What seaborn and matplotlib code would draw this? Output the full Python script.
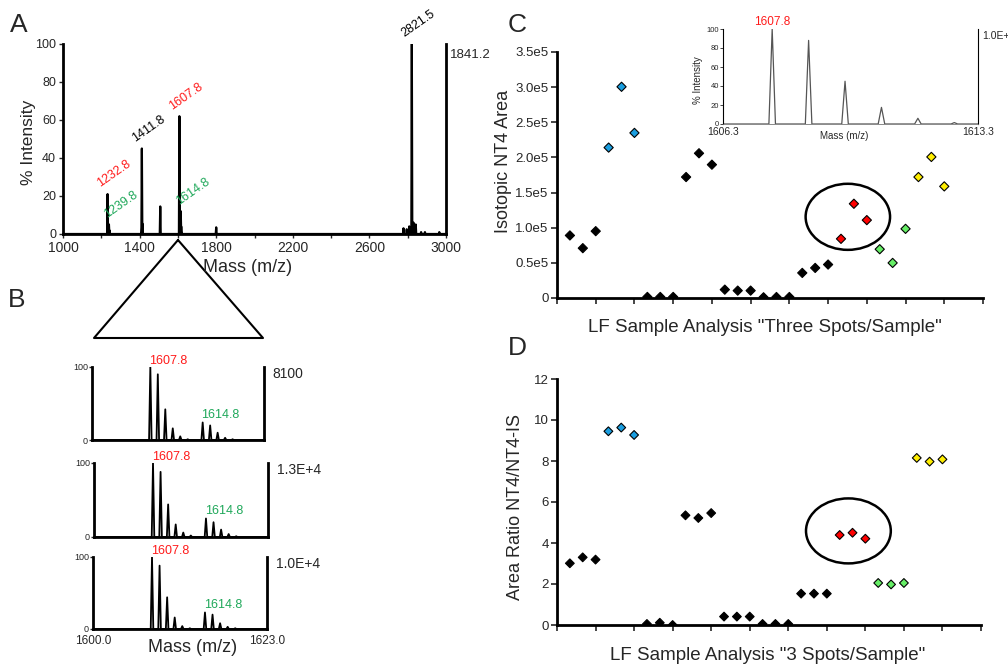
import numpy as np
import pandas as pd
import matplotlib
matplotlib.use("Agg")
import matplotlib.pyplot as plt
from matplotlib.patches import Ellipse
from matplotlib.lines import Line2D
from matplotlib.ticker import MultipleLocator, FixedLocator
import seaborn as sns

# ---------------- data ----------------
# Panel A: overview MALDI spectrum (m/z, % intensity)
a_mz = [1232.8, 1234.5, 1239.8, 1242.0, 1411.8, 1414.0, 1507.8, 1607.8, 1614.8, 1617.0,
        1800.0, 2778.0, 2795.0, 2808.0, 2821.5, 2830.0, 2842.0, 2870.0, 2890.0, 2965.0]
a_int = [21, 6, 5, 2, 45, 5.5, 14.5, 62, 12, 4,
         3.5, 3, 2.5, 4, 100, 6, 5, 1, 1, 1]
a_mz_faint = [1609.8]
a_int_faint = [27]
a_abs = "1841.2"
a_lab_text = ["1232.8", "1239.8", "1411.8", "1607.8", "1614.8", "2821.5"]
a_lab_mz = [1232.8, 1239.8, 1411.8, 1607.8, 1614.8, 2821.5]
a_lab_int = [21, 5, 45, 62, 12, 100]
a_lab_col = ["red", "green", "black", "red", "green", "black"]
a_xticks = [1000, 1400, 1800, 2200, 2600, 3000]
a_yticks = [0, 20, 40, 60, 80, 100]

# Panel B: zoomed spectra of three spots (m/z, % intensity)
b_mz = [1607.8, 1608.8, 1609.8, 1610.8, 1611.8, 1612.8, 1614.8, 1615.8, 1616.8, 1617.8, 1618.8]
b_int_1 = [100, 90, 42, 16, 5, 1, 24, 20, 10, 3, 1]
b_int_2 = [100, 88, 44, 17, 6, 2, 25, 20, 10, 4, 1]
b_int_3 = [100, 88, 44, 16, 4, 1, 23, 20, 8, 3, 1]
b_abs = ["8100", "1.3E+4", "1.0E+4"]
b_xlim = [1600.0, 1623.0]

# Panel C inset: isotope cluster of NT4
ins_mz = [1607.65, 1608.65, 1609.65, 1610.65, 1611.65, 1612.65]
ins_int = [100, 88, 45, 17.5, 6, 1.5]
ins_xlim = [1606.3, 1613.3]
ins_abs = "1.0E+4"

# Panels C and D: 10 samples x 3 spots
sample = [1]*3 + [2]*3 + [3]*3 + [4]*3 + [5]*3 + [6]*3 + [7]*3 + [8]*3 + [9]*3 + [10]*3
spot = [1, 2, 3] * 10
group = (["black"]*3 + ["blue"]*3 + ["black"]*15 + ["red"]*3 + ["green"]*3 + ["yellow"]*3)
c_area = [89000, 70900, 95100, 214000, 300500, 234900, 1500, 1500, 1500,
          172100, 205900, 189700, 11900, 10500, 10500, 1000, 1400, 1400,
          35700, 42800, 47600, 84200, 134100, 110800, 69400, 49900, 98400,
          172100, 200700, 158800]
d_ratio = [3.01, 3.30, 3.19, 9.45, 9.63, 9.27, 0.05, 0.11, 0.0,
           5.35, 5.22, 5.46, 0.41, 0.41, 0.41, 0.05, 0.05, 0.05,
           1.53, 1.53, 1.53, 4.39, 4.50, 4.21, 2.05, 1.98, 2.05,
           8.15, 7.97, 8.08]
c_yticks = [0, 50000, 100000, 150000, 200000, 250000, 300000, 350000]
c_yticklabels = ["0", "0.5e5", "1.0e5", "1.5e5", "2.0e5", "2.5e5", "3.0e5", "3.5e5"]
d_yticks = [0, 2, 4, 6, 8, 10, 12]
palette = {"black": "black", "blue": "#1a9ee0", "red": "#ff0000",
           "green": "#66ee66", "yellow": "#ffee00"}
text_colors = {"red": "#ff1a1a", "green": "#1fa85a", "black": "black"}

df = pd.DataFrame({"sample": sample, "spot": spot, "group": group,
                   "area": c_area, "ratio": d_ratio})
df["pos"] = (df["sample"] - 1) + df["spot"] / 3.0

# ---------------- style ----------------
sns.set_style("ticks")
plt.rcParams["font.family"] = ["Liberation Sans", "DejaVu Sans"]
plt.rcParams["axes.linewidth"] = 1.5

W, H = 1008, 666
fig = plt.figure(figsize=(W / 100, H / 100), dpi=100)
fig.patch.set_facecolor("white")


def ax_px(l, t, r, b):
    return fig.add_axes([l / W, 1 - b / H, (r - l) / W, (b - t) / H])


def ftext(x, y, s, **kw):
    return fig.text(x / W, 1 - y / H, s, **kw)


def profile(mz, inten, w, lo, hi):
    order = np.argsort(mz)
    xs, ys = [lo], [0.0]
    for i in order:
        xs += [mz[i] - w, mz[i], mz[i] + w]
        ys += [0.0, inten[i], 0.0]
    xs.append(hi)
    ys.append(0.0)
    return np.array(xs), np.array(ys)


def spectrum(ax, mz, inten, w, lo, hi, color="black", lw=1.2):
    xs, ys = profile(mz, inten, w, lo, hi)
    sns.lineplot(x=xs, y=ys, sort=False, estimator=None, color=color,
                 linewidth=lw, ax=ax)


# ---------------- Panel A ----------------
axA = ax_px(63, 44, 446, 234)
spectrum(axA, a_mz_faint, a_int_faint, 2.0, 1000, 3000, color="#b0b0b0", lw=1.0)
spectrum(axA, a_mz, a_int, 2.5, 1000, 3000, color="black", lw=1.6)
axA.set_xlim(1000, 3000)
axA.set_ylim(0, 100)
axA.xaxis.set_major_locator(FixedLocator(a_xticks))
axA.xaxis.set_minor_locator(MultipleLocator(200))
axA.set_yticks(a_yticks)
axA.tick_params(axis="both", which="both", direction="out", length=3, width=1,
                pad=2, top=False, right=False)
axA.tick_params(axis="x", which="major", labelsize=10)
axA.tick_params(axis="y", which="major", labelsize=9)
axA.tick_params(axis="x", which="minor", length=3)
for s in ["left", "bottom", "right"]:
    axA.spines[s].set_linewidth(2)
    axA.spines[s].set_color("black")
axA.spines["top"].set_visible(False)
axA.set_xlabel("")
axA.set_ylabel("")
for t, m, h, c in zip(a_lab_text, a_lab_mz, a_lab_int, a_lab_col):
    dx = -4 if c != "green" else 0
    axA.annotate(t, xy=(m, h), xytext=(dx, 3), textcoords="offset points",
                 rotation=35, rotation_mode="anchor", ha="left", va="bottom",
                 color=text_colors[c], fontsize=9, annotation_clip=False)
axA.text(1.01, 0.94, a_abs, transform=axA.transAxes, ha="left", va="center",
         fontsize=9.5)
ftext(28, 142, "% Intensity", rotation=90, ha="center", va="center", fontsize=12.5)
ftext(248, 267, "Mass (m/z)", ha="center", va="center", fontsize=13)
ftext(19, 25, "A", ha="center", va="center", fontsize=19)

# triangle linking A to B
tri_x = np.array([178, 94, 263, 178]) / W
tri_y = 1 - np.array([240, 338, 338, 240]) / H
fig.add_artist(Line2D(tri_x, tri_y, transform=fig.transFigure, color="black", lw=1.5))
ftext(17, 300, "B", ha="center", va="center", fontsize=19)

# ---------------- Panel B ----------------
b_boxes = [(92, 367, 264, 440), (94, 463, 268, 537), (93, 557, 267, 629)]
b_sets = [b_int_1, b_int_2, b_int_3]
for k, (box, ints, lab) in enumerate(zip(b_boxes, b_sets, b_abs)):
    ax = ax_px(*box)
    spectrum(ax, b_mz, ints, 0.17, b_xlim[0], b_xlim[1], color="black", lw=1.3)
    ax.set_xlim(*b_xlim)
    ax.set_ylim(0, 100)
    ax.set_yticks([0, 100])
    ax.tick_params(axis="y", direction="out", length=2, width=1, labelsize=6.5, pad=1)
    ax.spines["top"].set_visible(False)
    for s in ["left", "bottom", "right"]:
        ax.spines[s].set_linewidth(2)
        ax.spines[s].set_color("black")
    ax.set_xlabel("")
    ax.set_ylabel("")
    if k == 2:
        ax.set_xticks(b_xlim)
        ax.set_xticklabels(["%.1f" % v for v in b_xlim])
        ax.tick_params(axis="x", length=0, labelsize=8.5, pad=4)
    else:
        ax.set_xticks([])
    ax.annotate("1607.8", xy=(b_mz[0], 100), xytext=(-1, 0), textcoords="offset points",
                ha="left", va="bottom", color=text_colors["red"], fontsize=9,
                annotation_clip=False)
    ax.annotate("1614.8", xy=(b_mz[6], ints[6]), xytext=(-1, 1), textcoords="offset points",
                ha="left", va="bottom", color=text_colors["green"], fontsize=9,
                annotation_clip=False)
    ax.text(1.05, 1.0, lab, transform=ax.transAxes, ha="left", va="top", fontsize=10)
ftext(193, 648, "Mass (m/z)", ha="center", va="center", fontsize=13)

# ---------------- Panel C ----------------
axC = ax_px(557, 52, 983, 298)
sns.scatterplot(data=df, x="pos", y="area", hue="group", palette=palette, marker="D",
                s=22, edgecolor="black", linewidth=0.8, legend=False, ax=axC, zorder=3)
axC.set_xlim(0, 11)
axC.set_ylim(0, 350000)
axC.set_xticks(range(0, 12))
axC.set_xticklabels([])
axC.set_yticks(c_yticks)
axC.set_yticklabels(c_yticklabels)
axC.tick_params(axis="both", direction="out", length=4, width=1.2, labelsize=9.5, pad=2)
for s in ["left", "bottom"]:
    axC.spines[s].set_linewidth(2)
    axC.spines[s].set_color("black")
axC.spines["top"].set_visible(False)
axC.spines["right"].set_visible(False)
axC.set_xlabel("")
axC.set_ylabel("")
axC.add_patch(Ellipse((7.51, 115500), 2.18, 94000, fill=False, edgecolor="black", lw=1.8))
ftext(503, 161, "Isotopic NT4 Area", rotation=90, ha="center", va="center", fontsize=13)
ftext(765, 328, 'LF Sample Analysis "Three Spots/Sample"', ha="center", va="center",
      fontsize=13.5)
ftext(517, 25, "C", ha="center", va="center", fontsize=19)

# inset
axI = ax_px(723, 29, 978, 124)
axI.patch.set_alpha(0)
spectrum(axI, ins_mz, ins_int, 0.09, ins_xlim[0], ins_xlim[1], color="#555555", lw=0.9)
axI.set_xlim(*ins_xlim)
axI.set_ylim(0, 100)
axI.set_yticks([0, 20, 40, 60, 80, 100])
axI.set_xticks(ins_xlim)
axI.set_xticklabels(["%.1f" % v for v in ins_xlim])
axI.tick_params(axis="y", direction="out", length=2, width=0.6, labelsize=5.5, pad=1)
axI.tick_params(axis="x", length=0, labelsize=7.5, pad=2)
axI.spines["top"].set_visible(False)
for s in ["left", "right"]:
    axI.spines[s].set_linewidth(0.8)
    axI.spines[s].set_color("black")
axI.spines["bottom"].set_linewidth(0.6)
axI.spines["bottom"].set_color("#777777")
axI.set_xlabel("")
axI.set_ylabel("")
axI.annotate("1607.8", xy=(ins_mz[0], 100), xytext=(0, 1), textcoords="offset points",
             ha="center", va="bottom", color=text_colors["red"], fontsize=8.5,
             annotation_clip=False)
ftext(982, 36, ins_abs, ha="left", va="center", fontsize=7.5)
ftext(698, 80, "% Intensity", rotation=90, ha="center", va="center", fontsize=7)
ftext(844, 136, "Mass (m/z)", ha="center", va="center", fontsize=7)

# ---------------- Panel D ----------------
axD = ax_px(557, 379, 981, 625)
sns.scatterplot(data=df, x="pos", y="ratio", hue="group", palette=palette, marker="D",
                s=20, edgecolor="black", linewidth=0.8, legend=False, ax=axD, zorder=3)
axD.set_xlim(0, 11)
axD.set_ylim(0, 12)
axD.set_xticks(range(0, 12))
axD.set_xticklabels([])
axD.set_yticks(d_yticks)
axD.tick_params(axis="both", direction="out", length=4, width=1.2, labelsize=9.5, pad=2)
for s in ["left", "bottom"]:
    axD.spines[s].set_linewidth(2)
    axD.spines[s].set_color("black")
axD.spines["top"].set_visible(False)
axD.spines["right"].set_visible(False)
axD.set_xlabel("")
axD.set_ylabel("")
axD.add_patch(Ellipse((7.56, 4.59), 2.2, 3.17, fill=False, edgecolor="black", lw=1.8))
ftext(515, 507, "Area Ratio NT4/NT4-IS", rotation=90, ha="center", va="center", fontsize=13)
ftext(768, 655, 'LF Sample Analysis "3 Spots/Sample"', ha="center", va="center",
      fontsize=13.5)
ftext(517, 348, "D", ha="center", va="center", fontsize=19)

fig.savefig("out.png", dpi=100, facecolor="white")
